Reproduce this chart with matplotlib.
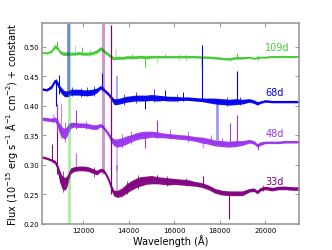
import numpy as np
import matplotlib
matplotlib.use("Agg")
import matplotlib.pyplot as plt

# wavelength grid (Angstrom)
wl = [10200, 10400, 10600, 10750, 10850, 10950, 11050, 11150, 11250, 11350,
      11450, 11600, 11800, 12000, 12200, 12400, 12600, 12750, 12850, 12950,
      13100, 13250, 13350, 13500, 13700, 13900, 14100, 14300, 14500, 14750,
      15000, 15250, 15500, 15750, 16000, 16300, 16600, 16900, 17200, 17500,
      17800, 18100, 18400, 18700, 19000, 19300, 19500, 19650, 19800, 20000,
      20300, 20600, 20900, 21200, 21500]

# flux + offset
f109 = [0.490, 0.489, 0.492, 0.500, 0.499, 0.492, 0.489, 0.488, 0.488, 0.488,
        0.488, 0.488, 0.489, 0.488, 0.488, 0.489, 0.492, 0.497, 0.495, 0.491,
        0.487, 0.482, 0.480, 0.481, 0.481, 0.482, 0.482, 0.482, 0.483, 0.482,
        0.483, 0.483, 0.483, 0.483, 0.483, 0.483, 0.483, 0.483, 0.482, 0.482,
        0.481, 0.480, 0.479, 0.481, 0.481, 0.482, 0.480, 0.481, 0.482, 0.482,
        0.483, 0.483, 0.483, 0.483, 0.483]
f68 = [0.428, 0.427, 0.432, 0.442, 0.439, 0.430, 0.425, 0.421, 0.420, 0.421,
       0.423, 0.423, 0.423, 0.422, 0.422, 0.423, 0.426, 0.431, 0.430, 0.425,
       0.420, 0.412, 0.407, 0.407, 0.409, 0.411, 0.412, 0.413, 0.413, 0.413,
       0.414, 0.413, 0.413, 0.412, 0.412, 0.412, 0.412, 0.411, 0.410, 0.409,
       0.408, 0.407, 0.406, 0.407, 0.407, 0.409, 0.407, 0.404, 0.406, 0.408,
       0.407, 0.407, 0.407, 0.407, 0.407]
f48 = [0.378, 0.377, 0.376, 0.377, 0.372, 0.362, 0.356, 0.353, 0.355, 0.362,
       0.367, 0.368, 0.367, 0.367, 0.366, 0.364, 0.364, 0.367, 0.365, 0.360,
       0.352, 0.342, 0.338, 0.337, 0.339, 0.342, 0.345, 0.348, 0.350, 0.351,
       0.352, 0.351, 0.350, 0.349, 0.348, 0.347, 0.346, 0.344, 0.342, 0.340,
       0.337, 0.336, 0.335, 0.336, 0.337, 0.340, 0.338, 0.333, 0.336, 0.338,
       0.338, 0.338, 0.339, 0.339, 0.339]
f33 = [0.313, 0.311, 0.308, 0.305, 0.298, 0.282, 0.272, 0.268, 0.270, 0.280,
       0.290, 0.293, 0.294, 0.294, 0.293, 0.290, 0.287, 0.291, 0.291, 0.287,
       0.276, 0.260, 0.252, 0.251, 0.254, 0.260, 0.265, 0.269, 0.272, 0.274,
       0.275, 0.274, 0.273, 0.272, 0.272, 0.271, 0.270, 0.268, 0.266, 0.262,
       0.256, 0.253, 0.252, 0.252, 0.252, 0.257, 0.258, 0.254, 0.259, 0.261,
       0.259, 0.261, 0.261, 0.260, 0.260]

# half width of the noise band
n109 = [0.0015, 0.0015, 0.002, 0.003, 0.003, 0.003, 0.003, 0.003, 0.003, 0.003,
        0.0025, 0.0025, 0.0025, 0.0025, 0.0025, 0.0025, 0.003, 0.003, 0.003, 0.003,
        0.003, 0.003, 0.0025, 0.0025, 0.0025, 0.0025, 0.0025, 0.0025, 0.0025, 0.0025,
        0.0025, 0.002, 0.002, 0.002, 0.002, 0.002, 0.002, 0.002, 0.002, 0.002,
        0.002, 0.002, 0.002, 0.002, 0.002, 0.0015, 0.0015, 0.0015, 0.0015, 0.0015,
        0.0015, 0.0015, 0.0015, 0.0015, 0.0015]
n68 = [0.002, 0.002, 0.003, 0.003, 0.004, 0.005, 0.005, 0.005, 0.005, 0.005,
       0.005, 0.005, 0.005, 0.005, 0.005, 0.005, 0.004, 0.003, 0.003, 0.003,
       0.003, 0.004, 0.005, 0.005, 0.005, 0.005, 0.005, 0.005, 0.005, 0.005,
       0.005, 0.005, 0.004, 0.004, 0.004, 0.003, 0.003, 0.003, 0.003, 0.004,
       0.005, 0.005, 0.005, 0.005, 0.004, 0.003, 0.003, 0.003, 0.002, 0.002,
       0.002, 0.002, 0.002, 0.002, 0.002]
n48 = [0.003, 0.003, 0.003, 0.004, 0.006, 0.009, 0.009, 0.009, 0.009, 0.008,
       0.005, 0.004, 0.004, 0.004, 0.004, 0.004, 0.004, 0.003, 0.003, 0.003,
       0.004, 0.005, 0.006, 0.007, 0.007, 0.007, 0.006, 0.006, 0.006, 0.006,
       0.005, 0.005, 0.004, 0.004, 0.004, 0.004, 0.004, 0.004, 0.005, 0.005,
       0.005, 0.005, 0.005, 0.005, 0.004, 0.003, 0.003, 0.003, 0.003, 0.002,
       0.002, 0.002, 0.002, 0.002, 0.002]
n33 = [0.002, 0.002, 0.002, 0.003, 0.005, 0.010, 0.011, 0.011, 0.010, 0.008,
       0.005, 0.004, 0.004, 0.004, 0.004, 0.004, 0.004, 0.003, 0.003, 0.003,
       0.004, 0.005, 0.005, 0.006, 0.007, 0.008, 0.008, 0.008, 0.008, 0.007,
       0.007, 0.006, 0.006, 0.006, 0.005, 0.005, 0.005, 0.004, 0.004, 0.004,
       0.004, 0.004, 0.004, 0.004, 0.004, 0.003, 0.003, 0.003, 0.003, 0.003,
       0.003, 0.003, 0.003, 0.003, 0.003]

# spikes / bad pixels: (wavelength, low, high, alpha, linewidth)
sp109 = [(10850, 0.495, 0.510, 1, 0.7), (11357, 0.20, 0.54, 0.4, 2.2),
         (11650, 0.488, 0.503, 0.5, 0.7), (11950, 0.486, 0.500, 1, 0.7),
         (13450, 0.480, 0.496, 0.4, 1.2), (14700, 0.465, 0.482, 1, 0.7),
         (15250, 0.472, 0.483, 0.4, 1.0), (16500, 0.476, 0.487, 0.4, 1.0),
         (17230, 0.465, 0.484, 0.4, 1.2), (18750, 0.479, 0.490, 1, 0.7),
         (14150, 0.480, 0.488, 1, 0.5), (15600, 0.481, 0.488, 1, 0.5),
         (16200, 0.478, 0.487, 0.5, 0.8), (18450, 0.475, 0.481, 1, 0.5),
         (12300, 0.485, 0.494, 1, 0.5), (19700, 0.478, 0.486, 1, 0.5)]
sp68 = [(10800, 0.400, 0.445, 1, 0.8), (10950, 0.420, 0.452, 1, 0.7),
        (11313, 0.420, 0.540, 0.4, 2.2), (12830, 0.425, 0.455, 1, 0.8),
        (13480, 0.405, 0.450, 0.4, 1.2), (14700, 0.395, 0.413, 1, 0.7),
        (15600, 0.410, 0.426, 1, 0.7), (16400, 0.408, 0.424, 1, 0.7),
        (17240, 0.408, 0.502, 1, 0.8), (17880, 0.342, 0.410, 0.4, 2.0),
        (18750, 0.405, 0.458, 1, 0.8),
        (11500, 0.416, 0.432, 1, 0.5), (11900, 0.415, 0.430, 1, 0.5),
        (12150, 0.416, 0.431, 1, 0.5), (12450, 0.416, 0.433, 1, 0.5),
        (13800, 0.402, 0.420, 1, 0.5), (14300, 0.405, 0.424, 1, 0.5),
        (15100, 0.406, 0.428, 1, 0.5), (16100, 0.406, 0.420, 0.5, 0.8),
        (18300, 0.400, 0.414, 1, 0.5), (18900, 0.401, 0.415, 1, 0.5)]
sp48 = [(10650, 0.370, 0.386, 0.5, 1.0), (10830, 0.340, 0.403, 1, 0.8),
        (11000, 0.345, 0.405, 0.6, 0.8), (11660, 0.360, 0.393, 1, 0.7),
        (13500, 0.290, 0.340, 0.4, 1.2), (14700, 0.328, 0.350, 1, 0.7),
        (15220, 0.345, 0.376, 1, 0.8), (17250, 0.328, 0.342, 0.5, 1.0),
        (18450, 0.333, 0.370, 1, 0.7), (18750, 0.334, 0.385, 1, 0.8),
        (19700, 0.325, 0.335, 1, 0.7),
        (11200, 0.338, 0.372, 1, 0.5), (12100, 0.360, 0.375, 1, 0.5),
        (13700, 0.328, 0.352, 1, 0.5), (14100, 0.335, 0.358, 1, 0.5),
        (15800, 0.343, 0.360, 1, 0.5), (16600, 0.339, 0.357, 1, 0.5),
        (17600, 0.333, 0.350, 1, 0.5), (18100, 0.330, 0.346, 1, 0.5)]
sp33 = [(10640, 0.305, 0.336, 1, 0.7), (10850, 0.285, 0.355, 1, 0.7),
        (11700, 0.290, 0.320, 0.5, 0.9), (12850, 0.285, 0.540, 0.4, 2.2),
        (13216, 0.250, 0.536, 1, 0.9), (13500, 0.250, 0.300, 0.4, 1.2),
        (15250, 0.270, 0.283, 1, 0.7), (17250, 0.263, 0.282, 1, 0.7),
        (18400, 0.208, 0.252, 1, 0.8),
        (11100, 0.254, 0.290, 1, 0.5), (12450, 0.280, 0.296, 1, 0.5),
        (13900, 0.250, 0.272, 1, 0.5), (14400, 0.260, 0.283, 1, 0.5),
        (15700, 0.265, 0.281, 1, 0.5), (16500, 0.264, 0.278, 1, 0.5),
        (19900, 0.255, 0.266, 1, 0.5)]

labels = ["109d", "68d", "48d", "33d"]
label_y = [0.500, 0.424, 0.354, 0.273]
colors = ["#44cc33", "#0000ee", "#9933ee", "#800080"]

fig = plt.figure(figsize=(3.32, 2.51), dpi=100)
ax = fig.add_axes([0.1256, 0.1036, 0.776, 0.8008])

for f, n, sp, c in zip([f109, f68, f48, f33], [n109, n68, n48, n33],
                       [sp109, sp68, sp48, sp33], colors):
    f = np.array(f)
    n = np.array(n)
    ax.fill_between(wl, f - n, f + n, color=c, lw=0, alpha=0.95)
    ax.plot(wl, f, color=c, lw=0.8)
    for w, lo, hi, a, lw in sp:
        ax.vlines(w, lo, hi, color=c, alpha=a, lw=lw)

for lab, y, c in zip(labels, label_y, colors):
    ax.text(20000, y, lab, color=c, fontsize=7, ha="left", va="center")

ax.set_xlim(10170, 21500)
ax.set_ylim(0.20, 0.54)
ax.set_xticks([12000, 14000, 16000, 18000, 20000])
ax.set_yticks([0.20, 0.25, 0.30, 0.35, 0.40, 0.45, 0.50])
ax.tick_params(direction="in", top=True, right=True, labelsize=5,
               length=3, width=0.6, color="#888888", pad=2)
for s in ax.spines.values():
    s.set_color("#999999")
    s.set_linewidth(1.2)
ax.set_xlabel("Wavelength (Å)", fontsize=7, labelpad=1)
ax.set_ylabel(r"Flux (10$^{-15}$ erg s$^{-1}$ Å$^{-1}$ cm$^{-2}$) + constant",
              fontsize=7, labelpad=2)

fig.savefig("out.png", dpi=100)
